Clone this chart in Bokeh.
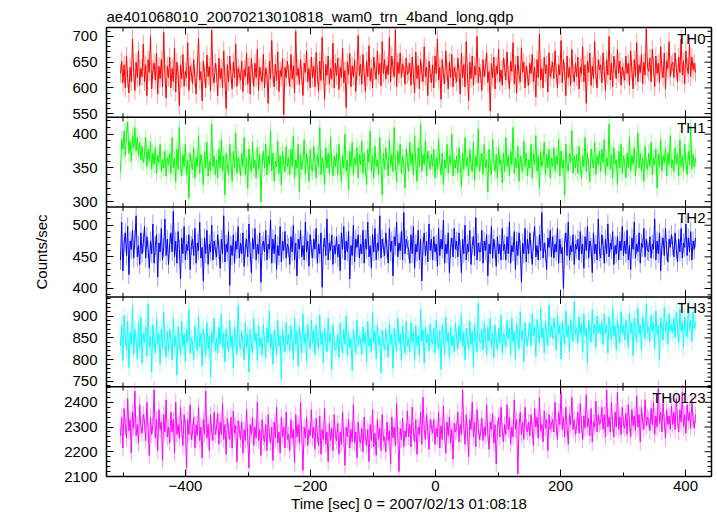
import numpy as np
from bokeh.plotting import figure
from bokeh.models import Range1d, LinearAxis, SingleIntervalTicker, FixedTicker, Label, Span
from bokeh.embed import file_html
from bokeh.resources import INLINE

title_text = "ae401068010_20070213010818_wam0_trn_4band_long.qdp"
x_label = "Time [sec] 0 = 2007/02/13 01:08:18"
y_label = "Counts/sec"
band_names = ["TH0", "TH1", "TH2", "TH3", "TH0123"]
band_colors = ["#ff0000", "#00ff00", "#0000ff", "#00ffff", "#ff00ff"]
# typical 1-sigma error of one bin, per band [counts/sec]
band_err = [18, 13, 15, 20, 34]

# time of first and last bin [sec]
t_first, t_last = -504.0, 416.0

th0 = [
    628, 652, 610, 645, 600, 662, 618, 590, 640, 612, 695, 630, 595, 650, 620, 672, 605, 638, 622, 685,
    612, 645, 585, 655, 630, 700, 598, 635, 648, 615, 668, 588, 642, 618, 655, 602, 708, 628, 580, 642,
    620, 660, 600, 638, 612, 678, 592, 650, 626, 565, 645, 618, 665, 603, 632, 620, 688, 595, 642, 630,
    608, 655, 620, 588, 640, 696, 615, 632, 575, 652, 626, 600, 664, 622, 642, 594, 712, 623, 610, 648,
    630, 585, 658, 618, 638, 600, 672, 620, 560, 645, 612, 662, 626, 598, 650, 620, 685, 603, 638, 626,
    615, 652, 593, 636, 622, 668, 607, 642, 588, 657, 628, 603, 648, 620, 675, 595, 640, 624, 612, 665,
    600, 638, 624, 570, 652, 617, 692, 626, 602, 646, 614, 670, 593, 634, 622, 657, 548, 640, 620, 652,
    628, 603, 665, 617, 643, 590, 710, 624, 638, 607, 655, 622, 585, 648, 630, 672, 612, 638, 600, 660,
    620, 642, 602, 669, 626, 593, 652, 614, 698, 633, 578, 646, 624, 662, 607, 638, 617, 687, 600, 648,
    624, 658, 597, 640, 620, 677, 610, 634, 562, 650, 626, 667, 602, 643, 622, 655, 593, 633, 702, 624,
    646, 607, 665, 628, 593, 652, 622, 682, 614, 638, 600, 660, 633, 617, 672, 626, 648, 604, 690, 628,
    655, 617, 643, 626, 698, 612, 662, 638, 622, 713, 602, 650, 628, 668, 620, 646, 638, 607, 658, 626,
    632, 648, 605, 660, 625, 590, 670, 618, 644, 598, 655, 630, 612, 680, 622, 640, 585, 652, 628, 610,
    645, 600, 662, 628, 695, 615, 640, 578, 655, 625, 608, 672, 632, 598, 650, 620, 665, 602, 640, 626,
    612, 658, 630, 588, 668, 620, 645, 602, 690, 628, 575, 650, 618, 662, 605, 642, 625, 700, 610, 640,
    628, 595, 655, 622, 640, 668, 610, 632, 555, 648, 620, 660, 598, 642, 628, 675, 612, 635, 605, 658,
    640, 615, 670, 625, 598, 652, 632, 688, 608, 645, 590, 662, 625, 612, 678, 630, 650, 600, 642, 622,
    605, 648, 628, 665, 612, 640, 582, 655, 620, 705, 615, 638, 600, 660, 628, 645, 592, 668, 622, 635,
    650, 618, 672, 630, 600, 645, 625, 692, 610, 655, 632, 585, 662, 620, 640, 605, 675, 628, 612, 648,
    622, 660, 598, 640, 628, 680, 612, 645, 570, 652, 630, 668, 605, 642, 618, 690, 625, 600, 655, 635,
    645, 610, 668, 632, 595, 655, 625, 700, 615, 648, 602, 662, 638, 618, 675, 628, 652, 605, 640, 630,
    615, 662, 628, 648, 605, 672, 635, 598, 655, 622, 688, 612, 645, 630, 665, 608, 650, 625, 715, 640,
    632, 658, 612, 675, 640, 602, 662, 628, 648, 610, 680, 635, 620, 668, 598, 652, 638, 690, 622, 645,
    650, 620, 668, 638, 612, 660, 630, 695, 625, 652, 608, 672, 640, 628, 685, 622, 660, 635, 648, 630,
]
th1 = [
    345, 392, 378, 405, 368, 400, 418, 372, 390, 360, 398, 380, 410, 375, 395, 368, 388, 362, 382, 358,
    370, 395, 352, 378, 360, 388, 348, 372, 355, 380, 342, 368, 358, 385, 345, 362, 350, 375, 338, 365,
    355, 372, 342, 395, 350, 365, 330, 378, 348, 410, 355, 338, 370, 352, 385, 340, 362, 305, 372, 355,
    348, 380, 335, 365, 352, 398, 342, 370, 356, 325, 375, 350, 388, 338, 360, 345, 415, 352, 368, 340,
    362, 335, 378, 350, 392, 345, 368, 310, 372, 355, 340, 385, 358, 330, 375, 350, 402, 342, 365, 355,
    338, 372, 352, 395, 340, 365, 320, 378, 355, 345, 388, 350, 362, 335, 380, 348, 370, 300, 358, 375,
    350, 385, 340, 368, 355, 405, 345, 372, 330, 360, 352, 390, 342, 368, 325, 375, 355, 345, 382, 352,
    365, 340, 378, 352, 398, 335, 362, 350, 385, 315, 370, 348, 360, 392, 340, 372, 355, 330, 378, 350,
    345, 382, 358, 335, 370, 352, 410, 340, 365, 355, 325, 380, 350, 372, 342, 395, 356, 338, 368, 352,
    372, 340, 385, 355, 330, 368, 350, 400, 345, 362, 318, 375, 352, 388, 340, 365, 355, 380, 335, 370,
    355, 390, 342, 372, 350, 325, 378, 358, 405, 345, 368, 335, 382, 352, 362, 340, 395, 355, 310, 372,
    348, 380, 360, 338, 392, 352, 370, 345, 410, 358, 330, 375, 355, 385, 342, 368, 352, 320, 378, 360,
    345, 388, 355, 372, 340, 398, 358, 330, 380, 352, 415, 345, 370, 355, 390, 338, 375, 362, 348, 370,
    352, 378, 335, 365, 348, 392, 358, 340, 372, 325, 362, 350, 385, 342, 368, 355, 400, 338, 362, 350,
    368, 342, 380, 355, 322, 372, 348, 395, 352, 365, 338, 378, 355, 345, 388, 332, 368, 352, 408, 345,
    358, 372, 340, 385, 350, 362, 315, 378, 352, 340, 392, 358, 345, 370, 335, 380, 355, 362, 328, 372,
    345, 395, 352, 368, 338, 375, 355, 410, 342, 365, 350, 382, 330, 368, 355, 345, 390, 352, 372, 338,
    362, 350, 385, 335, 372, 355, 398, 345, 368, 320, 375, 352, 362, 388, 340, 370, 350, 378, 335, 365,
    352, 380, 345, 368, 355, 392, 338, 375, 350, 362, 310, 385, 355, 345, 372, 358, 405, 342, 368, 350,
    370, 342, 382, 355, 335, 368, 352, 395, 345, 372, 352, 330, 378, 362, 350, 388, 340, 368, 355, 375,
    345, 378, 358, 392, 340, 365, 352, 415, 348, 370, 335, 380, 355, 362, 325, 375, 350, 385, 342, 368,
    358, 335, 372, 350, 395, 345, 368, 355, 380, 338, 362, 402, 350, 372, 345, 365, 330, 382, 355, 348,
    372, 352, 388, 340, 365, 355, 378, 320, 370, 352, 392, 345, 368, 358, 380, 338, 372, 355, 398, 350,
    362, 345, 380, 355, 372, 338, 392, 352, 368, 345, 385, 358, 340, 375, 355, 412, 348, 370, 352, 365,
]
th2 = [
    445, 505, 428, 472, 488, 452, 498, 422, 475, 462, 492, 448, 478, 515, 450, 468, 438, 488, 455, 472,
    498, 448, 482, 462, 432, 475, 455, 502, 440, 468, 485, 418, 472, 458, 495, 445, 465, 510, 452, 478,
    438, 470, 488, 458, 522, 450, 475, 440, 490, 462, 415, 480, 455, 498, 445, 470, 460, 485, 430, 468,
    478, 452, 495, 440, 472, 460, 505, 448, 465, 412, 480, 455, 492, 438, 470, 458, 500, 445, 475, 462,
    450, 485, 462, 432, 478, 455, 515, 442, 470, 458, 490, 405, 468, 452, 485, 440, 475, 462, 498, 448,
    472, 455, 488, 435, 465, 478, 450, 502, 458, 425, 480, 462, 495, 445, 470, 455, 488, 410, 468, 475,
    458, 492, 445, 470, 462, 508, 440, 478, 455, 485, 430, 468, 452, 498, 442, 475, 460, 490, 448, 470,
    465, 438, 482, 458, 500, 445, 472, 420, 478, 462, 492, 450, 468, 445, 505, 458, 475, 435, 485, 462,
    448, 478, 462, 495, 440, 470, 455, 488, 402, 465, 480, 452, 510, 445, 472, 460, 485, 438, 468, 455,
    482, 450, 470, 428, 488, 462, 498, 445, 475, 458, 490, 415, 468, 452, 500, 442, 478, 465, 485, 448,
    470, 455, 492, 440, 478, 462, 505, 450, 468, 432, 485, 458, 495, 445, 472, 460, 515, 448, 478, 465,
    452, 488, 462, 440, 495, 458, 475, 420, 482, 468, 505, 450, 472, 460, 490, 445, 520, 455, 478, 468,
    462, 440, 485, 455, 498, 432, 470, 458, 492, 445, 478, 412, 468, 488, 452, 475, 442, 502, 460, 478,
    445, 482, 458, 470, 435, 495, 452, 478, 462, 508, 440, 470, 455, 488, 425, 465, 480, 450, 495, 462,
    475, 450, 488, 462, 425, 478, 455, 500, 445, 470, 458, 492, 438, 468, 482, 452, 512, 445, 472, 458,
    458, 492, 440, 475, 460, 485, 420, 470, 455, 498, 448, 478, 462, 435, 482, 455, 470, 445, 495, 460,
    470, 445, 482, 455, 505, 440, 468, 458, 490, 430, 475, 452, 488, 462, 410, 472, 455, 495, 442, 478,
    455, 488, 462, 438, 475, 498, 450, 468, 445, 485, 460, 520, 448, 472, 458, 430, 480, 465, 492, 450,
    482, 448, 470, 458, 495, 440, 478, 455, 465, 400, 472, 488, 452, 505, 445, 468, 458, 485, 438, 470,
    462, 478, 445, 490, 455, 470, 432, 482, 460, 498, 448, 475, 465, 425, 488, 455, 470, 445, 510, 458,
    448, 485, 468, 440, 478, 455, 502, 450, 472, 462, 490, 438, 468, 455, 482, 445, 475, 460, 498, 452,
    475, 455, 492, 445, 468, 430, 480, 462, 505, 448, 470, 458, 488, 440, 472, 465, 495, 450, 478, 460,
    458, 482, 448, 470, 462, 510, 445, 475, 455, 488, 428, 468, 480, 452, 495, 460, 442, 478, 465, 485,
    468, 450, 488, 462, 442, 478, 458, 495, 448, 472, 465, 502, 452, 480, 458, 490, 445, 475, 462, 480,
]
th3 = [
    832, 878, 798, 902, 852, 822, 888, 782, 862, 835, 922, 812, 870, 845, 802, 885, 825, 898, 792, 860,
    840, 875, 808, 928, 830, 855, 772, 880, 845, 815, 895, 835, 860, 790, 870, 825, 910, 840, 805, 865,
    820, 870, 845, 800, 895, 830, 855, 765, 875, 840, 810, 888, 830, 860, 795, 870, 838, 915, 815, 850,
    835, 800, 878, 845, 820, 900, 830, 860, 785, 870, 842, 810, 885, 825, 855, 760, 865, 838, 895, 820,
    850, 815, 875, 835, 905, 825, 860, 795, 870, 840, 818, 890, 830, 855, 780, 875, 845, 812, 925, 838,
    825, 865, 840, 800, 885, 830, 858, 772, 870, 835, 815, 895, 842, 860, 798, 878, 830, 850, 810, 880,
    840, 805, 872, 838, 912, 825, 858, 790, 868, 845, 812, 890, 832, 855, 755, 870, 840, 818, 885, 835,
    858, 820, 878, 842, 800, 895, 835, 865, 785, 875, 848, 815, 905, 838, 860, 795, 880, 845, 825, 890,
    838, 868, 812, 880, 845, 825, 902, 835, 862, 792, 872, 845, 818, 895, 840, 860, 778, 880, 842, 822,
    830, 858, 805, 885, 840, 815, 870, 835, 900, 810, 862, 828, 848, 775, 870, 842, 815, 890, 832, 855,
    845, 812, 875, 838, 862, 795, 888, 832, 850, 818, 908, 840, 865, 802, 878, 835, 852, 770, 868, 840,
    822, 870, 842, 805, 882, 835, 858, 780, 872, 845, 820, 895, 838, 860, 800, 878, 842, 815, 888, 832,
    848, 818, 885, 840, 865, 798, 878, 832, 855, 810, 915, 842, 868, 792, 875, 838, 858, 820, 882, 845,
    835, 872, 815, 890, 845, 825, 868, 778, 880, 850, 812, 898, 840, 862, 805, 875, 832, 855, 818, 885,
    850, 825, 878, 842, 905, 830, 862, 800, 872, 848, 822, 888, 835, 865, 785, 880, 845, 818, 930, 842,
    838, 870, 822, 885, 850, 812, 875, 842, 895, 828, 860, 805, 880, 845, 822, 872, 838, 902, 815, 860,
    855, 828, 890, 848, 872, 812, 895, 840, 865, 802, 882, 852, 825, 910, 845, 868, 795, 885, 850, 832,
    862, 885, 832, 905, 855, 875, 808, 892, 860, 838, 918, 850, 872, 815, 888, 858, 832, 925, 852, 878,
    848, 895, 865, 822, 902, 858, 880, 802, 888, 860, 835, 912, 852, 878, 818, 892, 865, 842, 932, 858,
    872, 838, 898, 860, 882, 818, 905, 855, 872, 792, 890, 865, 840, 915, 858, 882, 828, 900, 862, 878,
    858, 888, 835, 905, 862, 880, 815, 898, 868, 845, 920, 855, 878, 822, 892, 862, 838, 910, 858, 880,
    845, 892, 868, 828, 905, 860, 885, 810, 895, 865, 840, 918, 858, 880, 822, 898, 870, 848, 928, 862,
    875, 842, 902, 865, 885, 825, 912, 858, 878, 800, 895, 868, 845, 920, 862, 888, 835, 905, 865, 880,
    862, 895, 850, 908, 872, 840, 915, 865, 888, 828, 898, 870, 852, 925, 868, 890, 842, 910, 872, 885,
]
th0123 = [
    2265, 2340, 2215, 2375, 2300, 2255, 2415, 2285, 2330, 2195, 2360, 2295, 2445, 2265, 2310, 2235, 2390, 2300, 2275, 2350,
    2320, 2245, 2400, 2290, 2185, 2340, 2270, 2310, 2450, 2255, 2330, 2205, 2370, 2290, 2320, 2165, 2350, 2280, 2410, 2260,
    2300, 2235, 2360, 2280, 2330, 2195, 2400, 2270, 2310, 2255, 2380, 2290, 2225, 2350, 2300, 2135, 2330, 2270, 2390, 2250,
    2280, 2340, 2215, 2310, 2265, 2380, 2245, 2300, 2175, 2330, 2270, 2445, 2255, 2310, 2205, 2350, 2280, 2245, 2360, 2270,
    2300, 2355, 2230, 2320, 2270, 2395, 2250, 2310, 2190, 2335, 2285, 2250, 2340, 2215, 2365, 2275, 2305, 2160, 2325, 2290,
    2250, 2320, 2195, 2290, 2245, 2370, 2260, 2135, 2310, 2270, 2340, 2225, 2300, 2255, 2400, 2245, 2290, 2185, 2330, 2260,
    2240, 2310, 2205, 2350, 2270, 2235, 2300, 2165, 2320, 2255, 2380, 2235, 2280, 2195, 2340, 2260, 2300, 2215, 2360, 2250,
    2270, 2205, 2330, 2255, 2290, 2155, 2350, 2260, 2310, 2235, 2400, 2270, 2125, 2300, 2255, 2340, 2225, 2290, 2265, 2370,
    2255, 2300, 2210, 2335, 2265, 2225, 2345, 2190, 2290, 2250, 2375, 2230, 2280, 2160, 2315, 2245, 2295, 2205, 2350, 2265,
    2245, 2315, 2190, 2280, 2230, 2360, 2255, 2145, 2300, 2260, 2330, 2215, 2290, 2240, 2390, 2235, 2280, 2175, 2320, 2250,
    2235, 2295, 2200, 2340, 2260, 2225, 2290, 2160, 2310, 2245, 2370, 2220, 2275, 2185, 2330, 2250, 2295, 2205, 2350, 2245,
    2260, 2200, 2320, 2245, 2285, 2150, 2340, 2255, 2300, 2225, 2395, 2265, 2120, 2295, 2250, 2335, 2220, 2285, 2260, 2365,
    2260, 2310, 2220, 2380, 2280, 2240, 2330, 2190, 2300, 2270, 2360, 2230, 2420, 2290, 2250, 2350, 2280, 2210, 2330, 2300,
    2275, 2330, 2230, 2295, 2260, 2360, 2215, 2305, 2250, 2385, 2270, 2195, 2320, 2265, 2340, 2235, 2290, 2170, 2315, 2280,
    2290, 2360, 2240, 2310, 2270, 2450, 2300, 2230, 2350, 2280, 2180, 2330, 2290, 2400, 2260, 2320, 2220, 2370, 2300, 2250,
    2280, 2335, 2245, 2300, 2265, 2390, 2275, 2210, 2320, 2290, 2355, 2235, 2310, 2150, 2295, 2340, 2260, 2380, 2285, 2240,
    2310, 2270, 2390, 2290, 2340, 2230, 2300, 2260, 2410, 2290, 2330, 2110, 2300, 2360, 2270, 2320, 2250, 2380, 2300, 2280,
    2320, 2265, 2350, 2290, 2225, 2375, 2300, 2340, 2255, 2420, 2285, 2310, 2240, 2365, 2295, 2330, 2205, 2350, 2290, 2310,
    2330, 2280, 2400, 2300, 2250, 2360, 2310, 2440, 2290, 2340, 2260, 2380, 2300, 2230, 2350, 2310, 2420, 2290, 2330, 2270,
    2305, 2360, 2275, 2395, 2310, 2250, 2345, 2295, 2430, 2300, 2335, 2265, 2375, 2240, 2320, 2300, 2405, 2280, 2350, 2310,
    2320, 2380, 2290, 2350, 2260, 2450, 2300, 2340, 2280, 2400, 2310, 2260, 2360, 2300, 2440, 2290, 2340, 2270, 2380, 2310,
    2295, 2355, 2270, 2390, 2315, 2260, 2370, 2305, 2345, 2285, 2425, 2300, 2350, 2240, 2380, 2320, 2290, 2410, 2305, 2340,
    2330, 2285, 2375, 2310, 2400, 2270, 2345, 2300, 2455, 2315, 2360, 2280, 2395, 2320, 2255, 2370, 2310, 2345, 2290, 2385,
    2310, 2360, 2290, 2415, 2330, 2280, 2370, 2320, 2440, 2300, 2350, 2275, 2390, 2325, 2360, 2295, 2405, 2330, 2295, 2350,
]
series = [th0, th1, th2, th3, th0123]

x_lims = (-526.4, 441.6)
y_lims = [(542.8, 717.5), (292.0, 425.0), (386.7, 528.7), (738.0, 944.0), (2100.0, 2463.0)]
y_steps = [50, 50, 50, 50, 100]
x_step = 200

FONT = "Liberation Sans"
FS = "15px"
N = len(series)
MAJ, MIN = 7, 4

p = figure(
    frame_width=605, frame_height=449,
    x_range=Range1d(*x_lims), y_range=Range1d(0, N),
    output_backend="svg", toolbar_location=None,
    x_axis_location=None, y_axis_location=None,
    min_border_left=106, min_border_right=6, min_border_top=27, min_border_bottom=39,
    title=title_text,
)
p.xgrid.grid_line_color = None
p.ygrid.grid_line_color = None
p.outline_line_color = "#000000"
p.outline_line_width = 1.5
p.background_fill_color = "white"
p.border_fill_color = "white"
p.title.text_font = FONT
p.title.text_font_size = FS
p.title.text_font_style = "normal"
p.title.text_color = "black"
p.title.align = "left"
p.title.standoff = 5


def tick_values(lo, hi, step):
    first = np.ceil(lo / step - 1e-9) * step
    return np.arange(first, hi + 1e-9, step)


# panel k (0 = top) occupies [N-1-k, N-k] of the main y range; each has its own data range
left_major, left_minor, left_labels = [], [], {}
for k in range(N):
    lo, hi = y_lims[k]
    base = N - 1 - k
    p.extra_y_ranges[f"r{k}"] = Range1d(lo - base * (hi - lo), hi + k * (hi - lo))
    maj = tick_values(lo, hi, y_steps[k])
    mnr = np.setdiff1d(tick_values(lo, hi, y_steps[k] / 5), maj)
    for v in maj:
        pos = float(base + (v - lo) / (hi - lo))
        left_major.append(pos)
        left_labels[pos] = f"{int(v)}"
    for v in mnr:
        left_minor.append(float(base + (v - lo) / (hi - lo)))

x_major = tick_values(x_lims[0], x_lims[1], x_step)
x_minor = np.setdiff1d(tick_values(x_lims[0], x_lims[1], x_step / 2), x_major)

for k in range(N):
    rn = f"r{k}"
    lo, hi = y_lims[k]
    vals = np.array(series[k], dtype=float)
    t = np.linspace(t_first, t_last, len(vals))
    p.segment(x0=t, y0=vals - band_err[k], x1=t, y1=vals + band_err[k],
              line_color=band_colors[k], line_alpha=0.4, line_width=1, y_range_name=rn)
    p.line(t, vals, line_color=band_colors[k], line_width=1, y_range_name=rn)

    # mirrored ticks on the right edge
    y_major = tick_values(lo, hi, y_steps[k])
    y_minor = np.setdiff1d(tick_values(lo, hi, y_steps[k] / 5), y_major)
    for tv, ln in ((y_major, MAJ), (y_minor, MIN)):
        p.ray(x=np.full(len(tv), x_lims[1]), y=tv, length=ln, length_units="screen",
              angle=np.pi, line_color="black", line_width=1, y_range_name=rn)

    # x ticks on the panel's top and bottom edges
    for tv, ln in ((x_major, MAJ), (x_minor, MIN)):
        p.ray(x=tv, y=np.full(len(tv), hi), length=ln, length_units="screen",
              angle=-np.pi / 2, line_color="black", line_width=1, y_range_name=rn)
        if k < N - 1:
            p.ray(x=tv, y=np.full(len(tv), lo), length=ln, length_units="screen",
                  angle=np.pi / 2, line_color="black", line_width=1, y_range_name=rn)

    if k < N - 1:
        p.add_layout(Span(location=lo, dimension="width", y_range_name=rn,
                          line_color="black", line_width=1.5))

    p.add_layout(Label(x=x_lims[1], y=hi, y_range_name=rn, text=band_names[k],
                       text_align="right", text_baseline="top",
                       x_offset=-6, y_offset=-2,
                       text_font=FONT, text_font_size=FS, text_color="black"))

yl = LinearAxis(ticker=FixedTicker(ticks=left_major, minor_ticks=left_minor))
yl.major_label_overrides = left_labels
yl.axis_line_color = None
yl.major_tick_in = MAJ
yl.major_tick_out = 0
yl.minor_tick_in = MIN
yl.minor_tick_out = 0
yl.major_tick_line_color = "black"
yl.minor_tick_line_color = "black"
yl.major_label_text_font = FONT
yl.major_label_text_font_size = FS
yl.major_label_text_color = "black"
yl.major_label_standoff = 9
yl.axis_label = y_label
yl.axis_label_text_font = FONT
yl.axis_label_text_font_size = FS
yl.axis_label_text_font_style = "normal"
yl.axis_label_text_color = "black"
yl.axis_label_standoff = 11
p.add_layout(yl, "left")

xb = LinearAxis(ticker=SingleIntervalTicker(interval=x_step, num_minor_ticks=2))
xb.axis_line_color = None
xb.major_tick_in = MAJ
xb.major_tick_out = 0
xb.minor_tick_in = MIN
xb.minor_tick_out = 0
xb.major_tick_line_color = "black"
xb.minor_tick_line_color = "black"
xb.major_label_text_font = FONT
xb.major_label_text_font_size = FS
xb.major_label_text_color = "black"
xb.major_label_standoff = 4
xb.axis_label = x_label
xb.axis_label_text_font = FONT
xb.axis_label_text_font_size = FS
xb.axis_label_text_font_style = "normal"
xb.axis_label_text_color = "black"
xb.axis_label_standoff = 1
p.add_layout(xb, "below")

open("out.html", "w").write(file_html(p, INLINE))
